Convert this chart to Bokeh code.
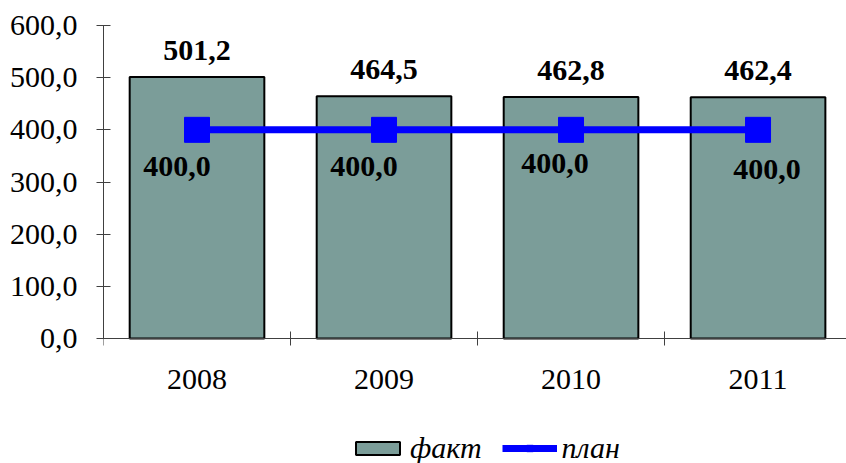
from bokeh.plotting import figure
from bokeh.models import (ColumnDataSource, Range1d, FixedTicker, LabelSet, Legend,
                          LegendItem, LinearAxis)
from bokeh.embed import file_html
from bokeh.resources import INLINE

years = ["2008", "2009", "2010", "2011"]
fact = [501.2, 464.5, 462.8, 462.4]
plan = [400.0, 400.0, 400.0, 400.0]
y_ticks = [0, 100, 200, 300, 400, 500, 600]

# screen offsets of the plan labels (as placed in the original)
plan_dx = [-20, -20, -16, 9]
plan_dy = [-46, -46, -43, -49]

def fmt(v):
    return f"{v:.1f}".replace(".", ",")

xc = [i + 0.5 for i in range(len(years))]
src = ColumnDataSource(dict(x=xc, fact=fact, plan=plan,
                            fact_lbl=[fmt(v) for v in fact],
                            plan_lbl=[fmt(v) for v in plan],
                            dx=plan_dx, dy=plan_dy))

FONT = "Liberation Serif"
FS = "30px"
# frame extends below zero so that axis labels and legend live inside it
p = figure(frame_width=743, frame_height=438, output_backend="svg", toolbar_location=None,
           x_range=Range1d(0, 3.973), y_range=Range1d(-239.6, 600),
           x_axis_location=None,
           min_border_left=103, min_border_right=0, min_border_top=25,
           min_border_bottom=0)
p.outline_line_color = None
p.grid.grid_line_color = None
p.background_fill_color = "white"

bars = p.vbar(x="x", top="fact", bottom=0, width=0.72, source=src,
              fill_color="#7B9D99", line_color="black", line_width=2)
ln = p.line(x="x", y="plan", source=src, line_color="#0000FF", line_width=7)
mk = p.scatter(x="x", y="plan", source=src, marker="square", size=25,
               fill_color="#0000FF", line_color="#0000FF")

# x axis at y = 0
ax = LinearAxis(fixed_location=0)
ax.ticker = FixedTicker(ticks=xc, minor_ticks=list(range(len(years) + 1)))
ax.major_label_overrides = {x: y for x, y in zip(xc, years)}
ax.major_tick_in = 0
ax.major_tick_out = 0
ax.minor_tick_in = 7
ax.minor_tick_out = 7
ax.minor_tick_line_color = "#404040"
ax.axis_line_color = "#404040"
ax.major_label_standoff = 24
ax.major_label_text_font = FONT
ax.major_label_text_font_size = FS
ax.major_label_text_color = "black"
p.add_layout(ax, "below")

ay = p.yaxis[0]
ay.bounds = (0, 600)
ay.ticker = FixedTicker(ticks=y_ticks, minor_ticks=[])
ay.major_label_overrides = {v: fmt(v) for v in y_ticks}
ay.major_tick_in = 7
ay.major_tick_out = 7
ay.major_tick_line_color = "#404040"
ay.axis_line_color = "#404040"
ay.major_label_standoff = 19
ay.major_label_text_font = FONT
ay.major_label_text_font_size = FS
ay.major_label_text_color = "black"

# data labels
p.add_layout(LabelSet(x="x", y="fact", text="fact_lbl", source=src,
                      text_align="center", text_baseline="alphabetic",
                      y_offset=17, text_font=FONT, text_font_size=FS,
                      text_font_style="bold", text_color="black"))
p.add_layout(LabelSet(x="x", y="plan", text="plan_lbl", source=src,
                      x_offset="dx", y_offset="dy",
                      text_align="center", text_baseline="alphabetic",
                      text_font=FONT, text_font_size=FS,
                      text_font_style="bold", text_color="black"))

legend = Legend(items=[LegendItem(label="факт", renderers=[bars]),
                       LegendItem(label="план", renderers=[ln, mk])],
                orientation="horizontal", location=(247, -2),
                label_text_font=FONT, label_text_font_size=FS,
                label_text_font_style="italic", label_text_color="black",
                glyph_width=55, glyph_height=16, label_standoff=5,
                spacing=20, border_line_color=None,
                background_fill_alpha=0, padding=0, margin=0)
p.add_layout(legend, "center")

open("out.html", "w").write(file_html(p, INLINE))
